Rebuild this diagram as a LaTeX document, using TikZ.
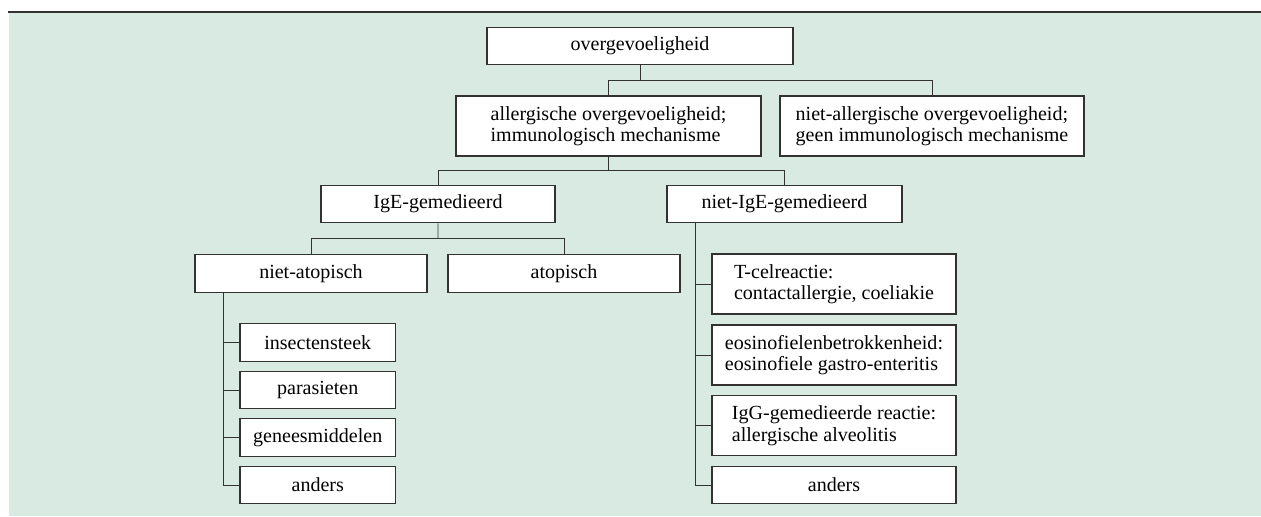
\documentclass[tikz,border=0pt]{standalone}
\usepackage{fontspec}
\setmainfont{Liberation Serif}
\usetikzlibrary{positioning}
\usetikzlibrary{calc}
\definecolor{achtergrond}{RGB}{216,234,226}
\definecolor{lijn}{RGB}{50,50,50}
\tikzset{vak/.style={draw=lijn, line width=0.65pt, fill=white, minimum height=0.75cm, inner sep=2pt, font=\fontsize{11.4}{12.2}\selectfont}}
\tikzset{vak2/.style={vak, minimum height=1.2cm, align=left}}
\tikzset{tak/.style={draw=lijn, line width=0.55pt}}

\begin{document}
\begin{tikzpicture}
\useasboundingbox (0,0) rectangle (25.22,-10.32);
\fill[achtergrond] (0.18,-0.24) rectangle (25.22,-10.32);
\draw[lijn, line width=1.3pt] (0.16,-0.24) -- (25.22,-0.24);
\begin{scope}[on grid]

\node[vak, minimum width=6.12cm] (over) at (12.8,-0.92) {overgevoeligheid};

\node[vak2, minimum width=6.1cm] (alg) [below left = 1.6cm and 0.63cm of over] {allergische overgevoeligheid;\\immunologisch mechanisme};
\node[vak2, minimum width=6.08cm] (nalg) [right = 6.47cm of alg] {niet-allergische overgevoeligheid;\\geen immunologisch mechanisme};

\node[vak, minimum width=4.68cm] (ige) [below left = 1.56cm and 3.41cm of alg] {IgE-gemedieerd};
\node[vak, minimum width=4.7cm] (nige) [right = 6.93cm of ige] {niet-IgE-gemedieerd};

\node[vak, minimum width=4.64cm] (natop) [below left = 1.39cm and 2.54cm of ige] {niet-atopisch};
\node[vak, minimum width=4.64cm] (atop) [right = 5.06cm of natop] {atopisch};

\node[vak, minimum width=3.11cm] (ins) [below right = 1.38cm and 0.135cm of natop] {insectensteek};
\node[vak, minimum width=3.11cm] (par) [below = 0.95cm of ins] {parasieten};
\node[vak, minimum width=3.11cm] (gen) [below = 0.95cm of par] {geneesmiddelen};
\node[vak, minimum width=3.11cm] (and1) [below = 0.95cm of gen] {anders};

\node[vak2, minimum width=4.88cm] (tcel) [below right = 1.6cm and 0.99cm of nige] {T-celreactie:\\contactallergie, coeliakie};
\node[vak2, minimum width=4.88cm] (eos) [below = 1.42cm of tcel] {eosinofielenbetrokkenheid:\\eosinofiele gastro-enteritis};
\node[vak2, minimum width=4.88cm] (igg) [below = 1.41cm of eos] {IgG-gemedieerde reactie:\\allergische alveolitis};
\node[vak, minimum width=4.88cm] (and2) [below = 1.19cm of igg] {anders};

\coordinate (k1) at ($(over.south)!0.5!(over.south |- alg.north)$);
\draw[tak] (over.south) -- (k1);
\draw[tak] (alg.north) |- (k1) -| (nalg.north);

\coordinate (k2) at ($(alg.south)!0.5!(alg.south |- ige.north)$);
\draw[tak] (alg.south) -- (k2);
\draw[tak] (ige.north) |- (k2) -| (nige.north);

\coordinate (k3) at ($(ige.south)!0.5!(ige.south |- natop.north)$);
\draw[tak] (ige.south) -- (k3);
\draw[tak] (natop.north) |- (k3) -| (atop.north);

\coordinate (lb) at ($(natop.south west)+(0.58,0)$);
\foreach \n in {ins,par,gen,and1}
  \draw[tak] (lb) |- (\n.west);

\coordinate (rb) at ($(nige.south west)+(0.58,0)$);
\foreach \n in {tcel,eos,igg,and2}
  \draw[tak] (rb) |- (\n.west);
\end{scope}
\end{tikzpicture}
\end{document}
